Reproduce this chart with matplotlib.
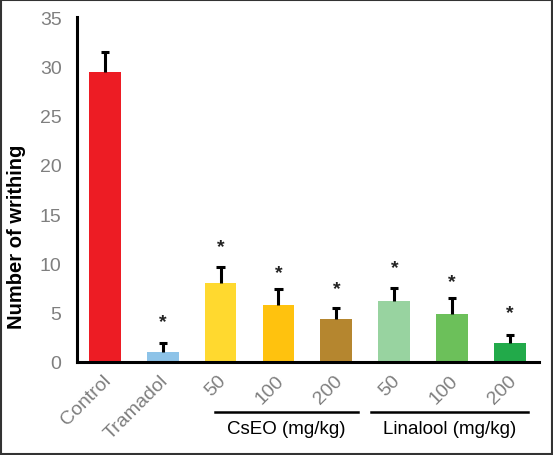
import matplotlib
matplotlib.use("Agg")
import matplotlib.pyplot as plt
from matplotlib.patches import Rectangle

categories = ["Control", "Tramadol", "50", "100", "200", "50", "100", "200"]
values = [29.4, 1.0, 8.0, 5.8, 4.4, 6.2, 4.9, 1.9]
errors = [2.1, 0.9, 1.6, 1.6, 1.1, 1.3, 1.6, 0.8]
star_y = [None, 4.1, 11.7, 9.1, 7.4, 9.6, 8.2, 5.0]
colors = ["#ED1C24", "#8DC3E8", "#FFD92F", "#FFC20E", "#B5862F",
          "#98D3A0", "#6CC05A", "#22AA4A"]
groups = [("CsEO (mg/kg)", 1.9, 4.38), ("Linalool (mg/kg)", 4.6, 7.3)]
yticks = [0, 5, 10, 15, 20, 25, 30, 35]

plt.rcParams['font.family'] = ['Liberation Sans', 'DejaVu Sans']

fig = plt.figure(figsize=(5.53, 4.56), dpi=100)
ax = fig.add_axes([0.139, 0.204, 0.836, 0.7565])
x = list(range(len(categories)))
ax.bar(x, values, width=0.55, color=colors, zorder=2)
tops = [v + e for v, e in zip(values, errors)]
ax.vlines(x, values, tops, color='black', lw=2.2, zorder=3)
ax.hlines(tops, [xi - 0.07 for xi in x], [xi + 0.07 for xi in x],
          color='black', lw=2.2, zorder=3)
for xi, sy in zip(x, star_y):
    if sy is not None:
        ax.text(xi, sy, '*', ha='center', va='center', fontsize=14,
                fontweight='bold', color='#222222')

ax.set_xlim(-0.48, 7.5)
ax.set_ylim(0, 35)
ax.set_yticks(yticks)
ax.tick_params(axis='y', length=0, labelsize=14, labelcolor='#7F7F7F', pad=11)
ax.tick_params(axis='x', length=0)
ax.set_xticks(x)
ax.set_xticklabels([])
for xi, lab in zip(x, categories):
    ax.annotate(lab, xy=(xi, 0), xycoords=('data', 'axes fraction'),
                xytext=(-2, -7), textcoords='offset points',
                rotation=45, rotation_mode='anchor', ha='right', va='top',
                fontsize=14, color='#7F7F7F')
for sp in ['top', 'right']:
    ax.spines[sp].set_visible(False)
ax.spines['left'].set_linewidth(2.2)
ax.spines['bottom'].set_linewidth(2.2)
ax.set_ylabel('Number of writhing', fontsize=14.5, fontweight='bold')
ax.yaxis.set_label_coords(-0.11, 0.365)

for name, x0, x1 in groups:
    ax.plot([x0, x1], [-5.1, -5.1], color='black', lw=1.8,
            clip_on=False, transform=ax.transData)
    ax.text((x0 + x1) / 2, -6.8, name, ha='center', va='center', fontsize=13.5,
            color='black', clip_on=False)

fig.patches.append(Rectangle((0.002, 0.002), 0.996, 0.996, transform=fig.transFigure,
                             fill=False, edgecolor='#333333', lw=1.5))
fig.savefig('out.png', dpi=100)
